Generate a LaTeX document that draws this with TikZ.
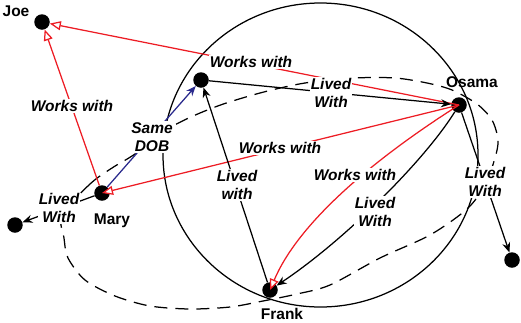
\documentclass[tikz,border=0pt]{standalone}
\usepackage{fontspec}
\setmainfont{Liberation Sans}
\usepackage{xcolor}
\definecolor{red}{rgb}{0.93,0.11,0.14}
\definecolor{blue}{rgb}{0.16,0.16,0.55}
\usepackage{tikz}
\usetikzlibrary{
	arrows.meta,
	calc,
	positioning
}
\tikzstyle{every picture}+=[>=Stealth]

\begin{document}
\begin{tikzpicture}[x=1pt, y=-1pt]

	\newcommand\DotSize{15.5pt}
	\newcommand\LineW{1.25pt}
	\useasboundingbox (0,0) rectangle (521,322);
	\begin{scope}[
			dot/.style={circle, fill=black, inner sep=0pt, minimum size=\DotSize},
			who/.style={font=\fontsize{15.5}{18}\selectfont\bfseries},
			rel/.style={fill=white, inner sep=1pt, align=center, font=\fontsize{15.5}{18.5}\selectfont\bfseries\itshape},
			lived/.style={-{Stealth[length=10pt, width=8pt]}, line width=\LineW},
			works/.style={-{Triangle[open, fill=white, length=11pt, width=9pt]}, red, line width=\LineW},
			same/.style={-{Stealth[length=10pt, width=8pt]}, blue, line width=\LineW}
			]

		% the two big loops go behind everything else
		\draw[line width=\LineW] (320.5,155) ellipse [x radius=157.5, y radius=152];
		\draw[line width=\LineW, dash pattern=on 13pt off 8pt] plot[smooth cycle] coordinates {
			(62,215) (90,184) (112,168) (135,154) (173,126) (215,107) (260,93) (305,83)
			(355,78) (395,78) (427,83) (452,90) (477,104) (492,120) (498,140) (495,158)
			(485,185) (467,209) (430,235) (380,258) (330,285) (297,294) (263,301) (230,307)
			(190,309) (150,306) (115,296) (85,280) (68,258) (64,238)
		};

		% people
		\foreach \who/\x/\y in {joe/42/22, unknown/201/80, osama/459/105, mary/102/193,
				frank/270/290, leftone/15/225, rightone/512/260} {
			\node[dot] (\who) at (\x,\y) {};
		}
		\node[who] (joename) at (16,11.5) {Joe};
		\node[who] (osamaname) at (472,82) {Osama};
		\node[who] (maryname) at (112,221) {Mary};
		\node[who] (frankname) at (282,314) {Frank};

		% works with
		\draw[works] (osama.center) -- (joe);
		\draw[works] (mary) -- (joe);
		\draw[works] (osama.center) -- (mary.center);
		\draw[works] (osama.center) .. controls (366,164) and (297,226) .. (frank.center);

		% lived with
		\draw[lived] (unknown) -- (osama);
		\draw[lived] (frank) -- (unknown);
		\draw[lived] (osama) .. controls (425,160) and (345,240) .. (frank);
		\draw[lived] (osama) -- (rightone);
		\draw[lived] (mary) -- (leftone);

		\draw[same] (mary) -- (unknown);

		% labels sit on top of the lines
		\node[rel] (wjo) at (251,62) {Works with};
		\node[rel] (wmj) at (72,106) {Works with};
		\node[rel] (wom) at (280,148) {Works with};
		\node[rel] (wof) at (355,175) {Works with};
		\node[rel] (luo) at (331,93) {Lived\\With};
		\node[rel] (lfu) at (237,185) {Lived\\with};
		\node[rel] (lof) at (375,212) {Lived\\With};
		\node[rel] (lor) at (485,182) {Lived\\With};
		\node[rel] (lml) at (59,208) {Lived\\With};
		\node[rel] (smu) at (152,137) {Same\\DOB};

	\end{scope}

\end{tikzpicture}
\end{document}
